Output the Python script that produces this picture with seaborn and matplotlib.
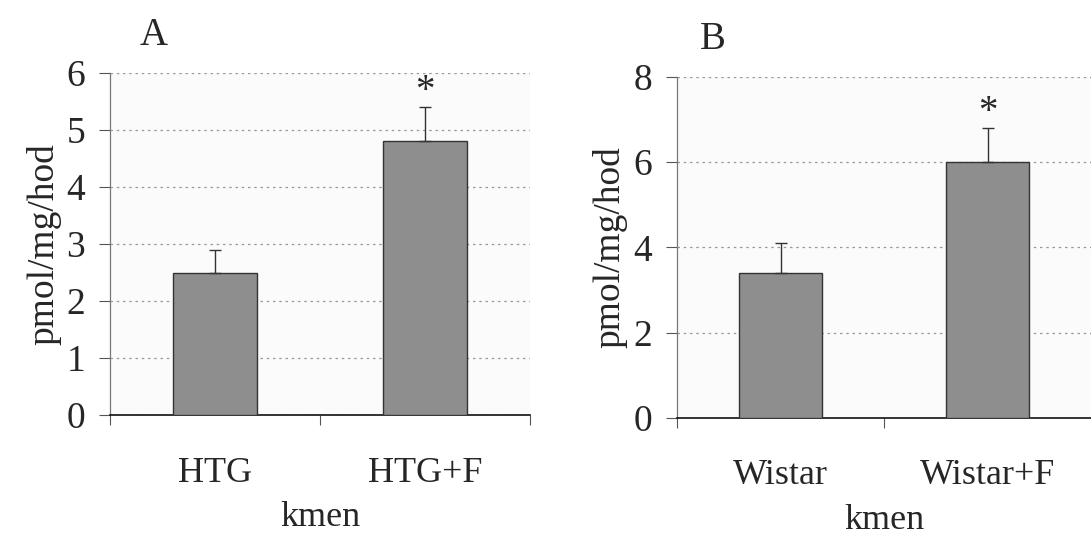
import numpy as np
import pandas as pd
import matplotlib
matplotlib.use("Agg")
import matplotlib.pyplot as plt
import seaborn as sns

# panel A
groups_a = ["HTG", "HTG+F"]
values_a = [2.5, 4.8]
err_a = [0.4, 0.6]

# panel B
groups_b = ["Wistar", "Wistar+F"]
values_b = [3.4, 6.0]
err_b = [0.7, 0.8]

sns.set_style("white")
plt.rcParams['font.family'] = ['Liberation Serif', 'DejaVu Serif']

fig = plt.figure(figsize=(10.91, 5.37), dpi=100)
ax_a = fig.add_axes([0.101, 0.227, 0.385, 0.637])
ax_b = fig.add_axes([0.6205, 0.222, 0.38, 0.635])


def draw_panel(ax, groups, values, errs, ymax, step, letter, lx):
    df = pd.DataFrame({"group": groups, "value": values})
    ax.set_facecolor("#fbfbfb")
    sns.barplot(data=df, x="group", y="value", ax=ax, color="#8e8e8e",
                saturation=1, width=0.4, edgecolor="#333333", linewidth=1.0,
                errorbar=None, zorder=3)
    x = np.arange(len(groups))
    ax.errorbar(x, values, yerr=[np.zeros(len(errs)), errs], fmt="none",
                ecolor="#333333", elinewidth=1.0, capsize=4, capthick=1.0, zorder=4)
    # significance mark
    ax.text(1, values[1] + errs[1] + ymax * 0.045, "*", ha="center", va="center",
            fontsize=28, zorder=5)
    ax.set_xlim(-0.5, 1.5)
    ax.set_ylim(0, ymax)
    ax.set_yticks(np.arange(0, ymax + 0.01, step))
    ax.yaxis.grid(True, linestyle=(0, (2, 3)), color="#999999", linewidth=0.9)
    ax.set_axisbelow(True)
    ax.set_xticks([-0.5, 0.5, 1.5], minor=False)
    ax.set_xticklabels([])
    ax.set_xticks(x, minor=True)
    ax.set_xticklabels(groups, minor=True, fontsize=26)
    ax.tick_params(axis="x", which="major", direction="out", length=7, width=0.8,
                   color="#555555", bottom=True)
    ax.tick_params(axis="x", which="minor", length=0, pad=30)
    ax.tick_params(axis="y", direction="out", length=8, width=0.8, color="#555555",
                   left=True, labelsize=27, pad=10)
    for s in ["top", "right"]:
        ax.spines[s].set_visible(False)
    ax.spines["left"].set_color("#777777")
    ax.spines["left"].set_linewidth(0.9)
    ax.spines["bottom"].set_color("#111111")
    ax.spines["bottom"].set_linewidth(1.2)
    ax.set_xlabel("kmen", fontsize=26, labelpad=8)
    ax.set_ylabel("pmol/mg/hod", fontsize=27, labelpad=4)
    ax.text(lx, 1.11, letter, transform=ax.transAxes, fontsize=28,
            ha="left", va="center")


draw_panel(ax_a, groups_a, values_a, err_a, 6, 1, "A", 0.07)
draw_panel(ax_b, groups_b, values_b, err_b, 8, 2, "B", 0.055)

fig.savefig("out.png", dpi=100, facecolor="white")
